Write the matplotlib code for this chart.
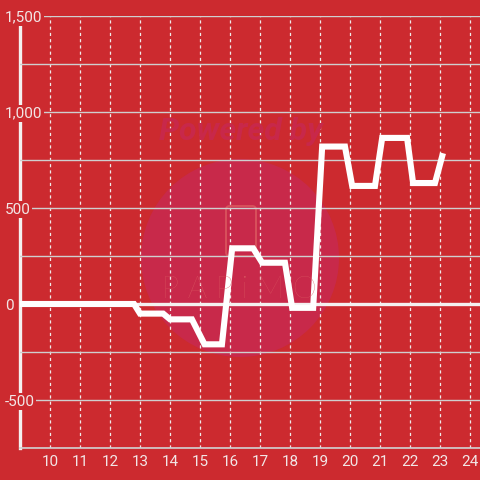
import matplotlib
matplotlib.use("Agg")
import matplotlib.pyplot as plt
from matplotlib.patches import Ellipse, FancyBboxPatch
from matplotlib.ticker import MultipleLocator, FuncFormatter

# values (hour of day vs. value)
hours = [9, 12.8, 13.0, 13.77, 14.0, 14.73, 15.15, 15.73, 16.07, 16.77, 17.07,
         17.83, 18.07, 18.77, 19.07, 19.83, 20.07, 20.83, 21.07, 21.9, 22.1,
         22.83, 23.07]
values = [0, 0, -50, -50, -80, -80, -210, -210, 290, 290, 215,
          215, -20, -20, 820, 820, 615, 615, 865, 865, 630,
          630, 770]
x_ticks = list(range(10, 25))

BG = "#cc2a2f"
LABEL = "#f2e6e6"

plt.rcParams["font.family"] = ["Roboto", "DejaVu Sans"]

fig = plt.figure(figsize=(4.8, 4.8), dpi=100, facecolor=BG)
ax = fig.add_axes([20 / 480, 32 / 480, 460 / 480, 432 / 480])
ax.set_facecolor(BG)
ax.set_axisbelow(True)

# watermark
fig_t = fig.transFigure
ax.add_patch(Ellipse((240 / 480, 222 / 480), 198 / 480, 198 / 480, transform=fig_t,
                     facecolor="#c8294a", edgecolor="none", zorder=0.2, clip_on=False))
ax.add_patch(FancyBboxPatch((226 / 480, 224 / 480), 30 / 480, 50 / 480,
                            boxstyle="round,pad=0,rounding_size=0.008", transform=fig_t,
                            facecolor="none", edgecolor="#d8515c", lw=1.4, zorder=0.3,
                            clip_on=False))
fig.text(241 / 480, 349 / 480, "Powered by", transform=fig_t, ha="center", va="center",
         fontsize=23, fontweight="bold", style="italic", color="#c8284a", zorder=0.3)
fig.text(239 / 480, 191 / 480, "P A P i M O", transform=fig_t, ha="center", va="center",
         fontsize=22, fontweight="light", color="#da5660", family=["Lato", "DejaVu Sans"],
         zorder=0.3)

ax.plot(hours, values, color="white", lw=4.4, solid_joinstyle="miter", zorder=3)
ax.axhline(0, color="#f4f0f0", lw=2.4, zorder=2)

ax.set_xlim(9, 24.33)
ax.set_ylim(-750, 1500)

ax.set_xticks(x_ticks)
ax.yaxis.set_major_locator(MultipleLocator(500))
ax.yaxis.set_minor_locator(MultipleLocator(250))
ax.yaxis.set_major_formatter(FuncFormatter(lambda v, p: f"{int(v):,}"))

ax.grid(True, axis="y", which="both", color="#cfcfcf", lw=1.0)
ax.grid(True, axis="x", which="major", color="#f0eaea", lw=0.9, linestyle=(0, (2.5, 2.5)))

ax.tick_params(axis="both", which="both", length=0, labelcolor=LABEL, labelsize=11)
ax.tick_params(axis="x", pad=5)
ax.tick_params(axis="y", pad=11)
for lbl in ax.get_yticklabels():
    lbl.set_horizontalalignment("left")
    lbl.set_bbox(dict(facecolor=BG, edgecolor="none", pad=1.0))

for side in ("top", "right"):
    ax.spines[side].set_visible(False)
ax.spines["left"].set_color("#f4f0f0")
ax.spines["left"].set_linewidth(2.4)
ax.spines["left"].set_zorder(0.4)
ax.spines["bottom"].set_color("#d0d0d0")
ax.spines["bottom"].set_linewidth(1.2)

fig.savefig("out.png", dpi=100, facecolor=BG)
